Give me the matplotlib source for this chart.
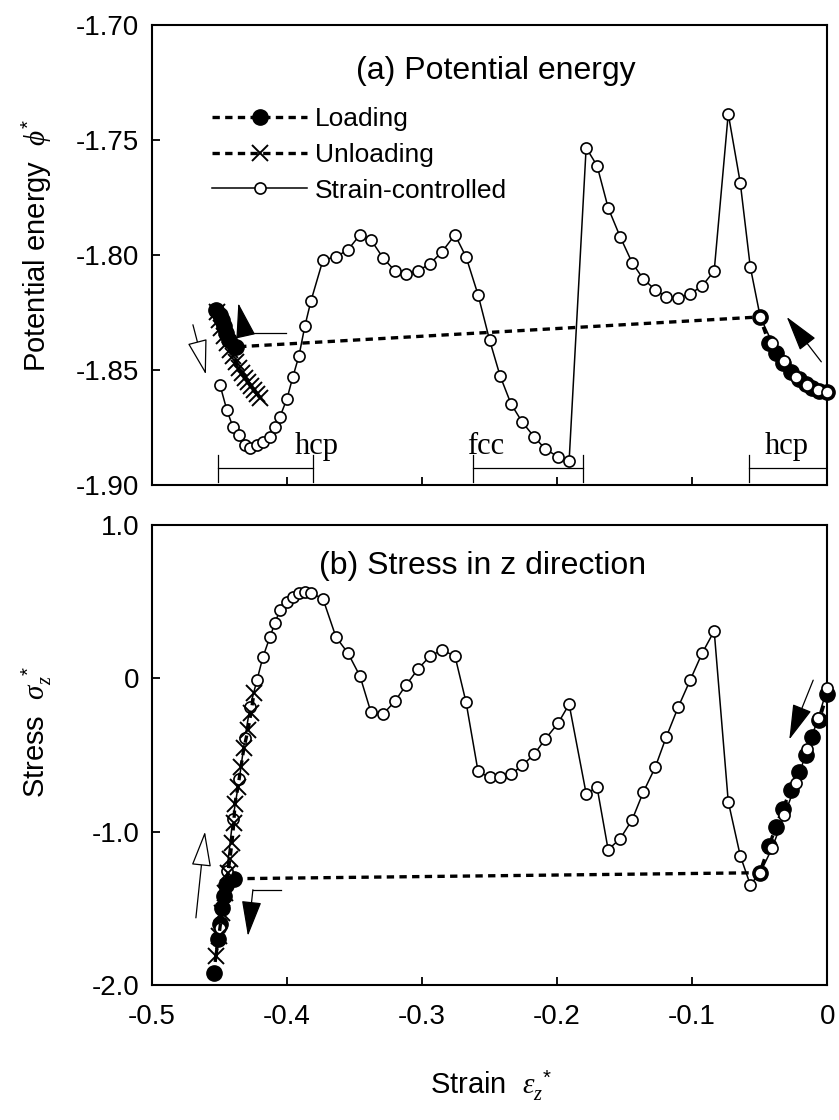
import numpy as np
import matplotlib
matplotlib.use('Agg')
from matplotlib import pyplot as plt

plt.rcParams['font.family'] = ['Liberation Sans', 'DejaVu Sans']
plt.rcParams['axes.unicode_minus'] = False
plt.rcParams['mathtext.fontset'] = 'custom'
plt.rcParams['mathtext.it'] = 'Liberation Serif:italic'
plt.rcParams['mathtext.rm'] = 'Liberation Sans'

# ---- data ----
# strain-controlled path (open circles), shared strain
strain_sc = [-0.4496, -0.4445, -0.4400, -0.4352, -0.4311, -0.4274, -0.4222, -0.4178, -0.4126, -0.4089,
             -0.4052, -0.4000, -0.3956, -0.3911, -0.3867, -0.3822, -0.3733, -0.3637, -0.3548, -0.3459,
             -0.3378, -0.3289, -0.3200, -0.3119, -0.3030, -0.2941, -0.2852, -0.2756, -0.2674, -0.2585,
             -0.2500, -0.2422, -0.2341, -0.2259, -0.2170, -0.2089, -0.1993, -0.1911,
             -0.1785, -0.1704, -0.1622, -0.1533, -0.1444, -0.1363, -0.1274, -0.1193, -0.1104, -0.1015,
             -0.0926, -0.0837, -0.0733, -0.0644, -0.0570, -0.0496,
             -0.0407, -0.0319, -0.0230, -0.0148, -0.0067, 0.0]
phi_sc = [-1.8565, -1.8674, -1.8748, -1.8783, -1.8826, -1.8839, -1.8826, -1.8813, -1.8791, -1.8748,
          -1.8704, -1.8626, -1.8530, -1.8439, -1.8309, -1.8200, -1.8022, -1.8009, -1.7978, -1.7913,
          -1.7935, -1.8013, -1.8070, -1.8083, -1.8070, -1.8039, -1.7987, -1.7913, -1.8009, -1.8174,
          -1.8370, -1.8526, -1.8648, -1.8726, -1.8791, -1.8843, -1.8878, -1.8896,
          -1.7535, -1.7613, -1.7796, -1.7922, -1.8035, -1.8104, -1.8152, -1.8183, -1.8187, -1.8170,
          -1.8135, -1.8070, -1.7387, -1.7687, -1.8052, -1.8270,
          -1.8383, -1.8461, -1.8530, -1.8565, -1.8587, -1.8596]
sigma_sc = [-1.627, -1.255, -0.915, -0.654, -0.392, -0.190, -0.013, 0.137, 0.268, 0.359,
            0.444, 0.497, 0.529, 0.556, 0.562, 0.556, 0.516, 0.268, 0.163, 0.013,
            -0.222, -0.235, -0.150, -0.046, 0.059, 0.144, 0.183, 0.144, -0.157, -0.608,
            -0.647, -0.647, -0.627, -0.569, -0.497, -0.399, -0.294, -0.170,
            -0.752, -0.712, -1.118, -1.046, -0.922, -0.745, -0.582, -0.386, -0.190, -0.013,
            0.163, 0.307, -0.804, -1.157, -1.346, -1.268,
            -1.105, -0.895, -0.686, -0.464, -0.261, -0.065]

# loading (filled circles): from 0 down to instability, jump, then continue
strain_load_a = [0.0, -0.006, -0.011, -0.016, -0.021, -0.027, -0.033, -0.038, -0.043, -0.050,
                 -0.4378, -0.4430, -0.4452, -0.4467, -0.4481, -0.4496, -0.4526]
phi_load = [-1.8598, -1.8590, -1.8578, -1.8562, -1.8540, -1.8510, -1.8470, -1.8425, -1.8385, -1.8270,
            -1.8400, -1.8370, -1.8339, -1.8309, -1.8283, -1.8261, -1.8239]
strain_load_b = [0.0, -0.006, -0.011, -0.016, -0.021, -0.027, -0.033, -0.038, -0.043, -0.050,
                 -0.4393, -0.4452, -0.4467, -0.4481, -0.4496, -0.4511, -0.4541]
sigma_load = [-0.100, -0.275, -0.386, -0.503, -0.614, -0.732, -0.850, -0.967, -1.092, -1.268,
              -1.307, -1.350, -1.420, -1.500, -1.600, -1.700, -1.922]

# unloading (crosses)
strain_unl_a = [-0.4519, -0.4504, -0.4489, -0.4467, -0.4444, -0.4422, -0.4400, -0.4378, -0.4356, -0.4333,
                -0.4311, -0.4289, -0.4267, -0.4244, -0.4222, -0.4200]
phi_unl = [-1.8248, -1.8283, -1.8317, -1.8352, -1.8383, -1.8413, -1.8439, -1.8465, -1.8491, -1.8513,
           -1.8535, -1.8552, -1.8570, -1.8587, -1.8604, -1.8622]
strain_unl_b = [-0.4526, -0.4504, -0.4481, -0.4459, -0.4437, -0.4422, -0.4407, -0.4393, -0.4385, -0.4363,
                -0.4341, -0.4319, -0.4289, -0.4267, -0.4244]
sigma_unl = [-1.810, -1.680, -1.529, -1.399, -1.268, -1.176, -1.072, -0.941, -0.817, -0.712,
             -0.582, -0.458, -0.340, -0.229, -0.098]

# phase ranges marked under panel (a)
phase_names = ['hcp', 'fcc', 'hcp']
phase_start = [-0.451, -0.262, -0.058]
phase_end = [-0.381, -0.181, 0.0]
phase_text_x = [-0.378, -0.253, -0.030]

xticks = [-0.5, -0.4, -0.3, -0.2, -0.1, 0.0]
xticklabels = ['-0.5', '-0.4', '-0.3', '-0.2', '-0.1', '0']
yticks_a = [-1.90, -1.85, -1.80, -1.75, -1.70]
yticks_b = [-2.0, -1.0, 0.0, 1.0]
yticklabels_b = ['-2.0', '-1.0', '0', '1.0']

load_ls = (0, (2.2, 1.6))


def style_ax(ax):
    for s in ax.spines.values():
        s.set_linewidth(1.5)
    ax.tick_params(direction='in', length=6, width=1.3, labelsize=20, pad=9)
    ax.set_xlim(-0.5, 0.0)
    ax.set_xticks(xticks)


def draw_series(ax, ysc, xl, yl, xu, yu):
    ax.plot(xl, yl, color='k', ls=load_ls, lw=2.4, marker='o', ms=11, mfc='k', mec='k',
            clip_on=False, zorder=2, label='Loading')
    ax.plot(xu, yu, color='k', ls=load_ls, lw=2.4, marker='x', ms=11, mew=1.4,
            clip_on=False, zorder=4, label='Unloading')
    ax.plot(strain_sc, ysc, color='k', lw=1.1, marker='o', ms=8, mfc='white', mec='k', mew=1.2,
            clip_on=False, zorder=3, label='Strain-controlled')


def arrow(ax, tail, head, filled=True):
    ax.annotate('', xy=head, xytext=tail,
                arrowprops=dict(arrowstyle='-|>,head_length=1.6,head_width=0.45', lw=0.9,
                                fc='k' if filled else 'white', ec='k', mutation_scale=14,
                                shrinkA=0, shrinkB=0))


fig = plt.figure(figsize=(8.39, 11.2), dpi=100)
ax1 = fig.add_axes([0.181, 0.567, 0.805, 0.411])
ax2 = fig.add_axes([0.181, 0.1205, 0.805, 0.411])

# ---- (a) potential energy ----
style_ax(ax1)
draw_series(ax1, phi_sc, strain_load_a, phi_load, strain_unl_a, phi_unl)
ax1.set_ylim(-1.90, -1.70)
ax1.set_yticks(yticks_a)
ax1.set_yticklabels(['%.2f' % v for v in yticks_a])
ax1.set_xticklabels([])
ax1.set_ylabel(r'Potential energy  $\phi^{*}$', fontsize=21)
ax1.yaxis.set_label_coords(-0.145, 0.52)
ax1.text(0.51, 0.90, '(a) Potential energy', transform=ax1.transAxes, ha='center', va='center',
         fontsize=23)
ax1.legend(loc='upper left', bbox_to_anchor=(0.07, 0.85), frameon=False, fontsize=19,
           handlelength=3.6, handletextpad=0.3, labelspacing=0.45, borderpad=0)

for name, x0, x1, tx in zip(phase_names, phase_start, phase_end, phase_text_x):
    ax1.plot([x0, x1], [-1.8926, -1.8926], color='k', lw=0.9)
    ax1.plot([x0, x0], [-1.8870, -1.8985], color='k', lw=0.9)
    if x1 < 0:
        ax1.plot([x1, x1], [-1.8870, -1.8985], color='k', lw=0.9)
    ax1.text(tx, -1.8835, name, ha='center', va='center', fontsize=22, family='Liberation Serif')

arrow(ax1, (-0.4696, -1.8304), (-0.4600, -1.8520), filled=False)
ax1.plot([-0.4007, -0.4311], [-1.8339, -1.8339], color='k', lw=0.9)
arrow(ax1, (-0.4311, -1.8339), (-0.4360, -1.8210))
arrow(ax1, (-0.0044, -1.8465), (-0.0300, -1.8270))

# ---- (b) stress ----
style_ax(ax2)
draw_series(ax2, sigma_sc, strain_load_b, sigma_load, strain_unl_b, sigma_unl)
ax2.set_ylim(-2.0, 1.0)
ax2.set_yticks(yticks_b)
ax2.set_yticklabels(yticklabels_b)
ax2.set_xticklabels(xticklabels)
ax2.tick_params(axis='x', pad=14)
ax2.set_ylabel(r'Stress  $\sigma_z^{\ *}$', fontsize=21)
ax2.yaxis.set_label_coords(-0.145, 0.55)
ax2.text(0.49, 0.91, '(b) Stress in z direction', transform=ax2.transAxes, ha='center',
         va='center', fontsize=23)

arrow(ax2, (-0.0104, -0.013), (-0.0281, -0.40))
arrow(ax2, (-0.4674, -1.562), (-0.4607, -1.000), filled=False)
ax2.plot([-0.4044, -0.4252], [-1.379, -1.379], color='k', lw=0.9)
arrow(ax2, (-0.4252, -1.379), (-0.4289, -1.680))

fig.text(0.585, 0.031, r'Strain  $\varepsilon_z^{\ *}$', ha='center', va='center', fontsize=21)

plt.savefig('out.png', dpi=100)
